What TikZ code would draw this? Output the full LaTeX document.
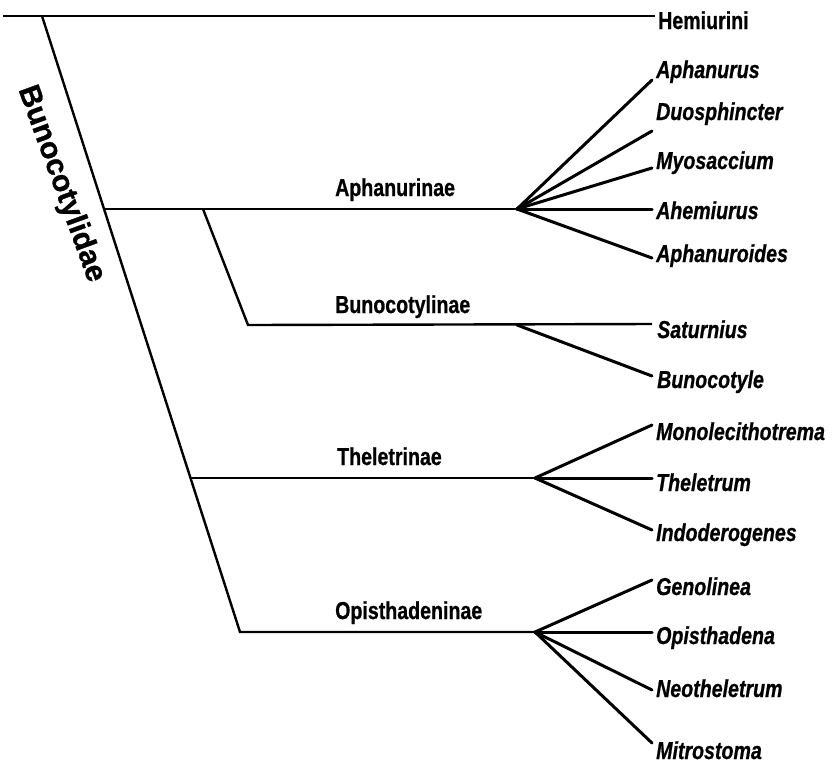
\documentclass[tikz,border=0pt]{standalone}
\usepackage{fontspec}
\setmainfont{Liberation Sans}[FakeStretch=0.8]
\newfontfamily\lblfont{Liberation Sans}[FakeStretch=0.8, FakeBold=0.7]
\newfontfamily\widefam{Liberation Sans}[FakeBold=1]
\begin{document}
\begin{tikzpicture}[x=1pt,y=-1pt,
  br/.style={line width=2.4pt},
  fan/.style={line width=3pt, line cap=round},
  sublbl/.style={anchor=base west, inner sep=0pt, font=\lblfont\fontsize{24.5}{26}\selectfont\bfseries},
  genlbl/.style={anchor=base west, inner sep=0pt, font=\lblfont\fontsize{24.5}{26}\selectfont\bfseries\itshape},
  famlbl/.style={inner sep=0pt, rotate=-70, font=\widefam\fontsize{30}{32}\selectfont\bfseries}]
\useasboundingbox (0,0) rectangle (837,764);
% structural points
\coordinate (tl) at (3,16);
\coordinate (top) at (42,16);
\coordinate (hemi) at (655,16);
\coordinate (aph0) at (104,209);
\coordinate (aph1) at (203,209);
\coordinate (aphF) at (517,209);
\coordinate (bun0) at (248,325);
\coordinate (bunF) at (517,325);
\coordinate (the0) at (190,478);
\coordinate (theF) at (535,478);
\coordinate (opi0) at (240,632);
\coordinate (opiF) at (535,632);
% tip ends
\coordinate (eAphanurus) at (652,80);
\coordinate (eDuo) at (652,131);
\coordinate (eMyo) at (652,168);
\coordinate (eAhe) at (652,209);
\coordinate (eAphs) at (652,258);
\coordinate (eSat) at (652,324);
\coordinate (eBun) at (652,376);
\coordinate (eMon) at (652,425);
\coordinate (eThe) at (652,478);
\coordinate (eInd) at (652,530);
\coordinate (eGen) at (652,580);
\coordinate (eOpi) at (652,632);
\coordinate (eNeo) at (652,690);
\coordinate (eMit) at (652,743);
% labels
\node[sublbl] (Hemiurini) at (658,29) {Hemiurini};
\node[sublbl] (Aphanurinae) at (335,196) {Aphanurinae};
\node[sublbl] (Bunocotylinae) at (335,313) {Bunocotylinae};
\node[sublbl] (Theletrinae) at (337,465) {Theletrinae};
\node[sublbl] (Opisthadeninae) at (335,619) {Opisthadeninae};
\node[famlbl] (fam) at (61,184) {Bunocotylidae};
\node[genlbl] (Aphanurus) at (656,78) {Aphanurus};
\node[genlbl] (Duosphincter) at (656,120) {Duosphincter};
\node[genlbl] (Myosaccium) at (656,169) {Myosaccium};
\node[genlbl] (Ahemiurus) at (656,219) {Ahemiurus};
\node[genlbl] (Aphanuroides) at (656,262) {Aphanuroides};
\node[genlbl] (Saturnius) at (657,338) {Saturnius};
\node[genlbl] (Bunocotyle) at (657,388) {Bunocotyle};
\node[genlbl] (Monolecithotrema) at (656,440) {Monolecithotrema};
\node[genlbl] (Theletrum) at (656,491) {Theletrum};
\node[genlbl] (Indoderogenes) at (656,541) {Indoderogenes};
\node[genlbl] (Genolinea) at (656,595) {Genolinea};
\node[genlbl] (Opisthadena) at (656,644) {Opisthadena};
\node[genlbl] (Neotheletrum) at (656,697) {Neotheletrum};
\node[genlbl] (Mitrostoma) at (656,759) {Mitrostoma};
% tree lines
\draw[br] (tl) -- (hemi);
\draw[br] (top) -- (opi0) -- (opiF);
\draw[br] (aph0) -- (aphF);
\draw[br] (aph1) -- (bun0) -- (eSat);
\draw[br] (the0) -- (theF);
% fans
\draw[fan] (aphF) -- (eAphanurus);
\draw[fan] (aphF) -- (eDuo);
\draw[fan] (aphF) -- (eMyo);
\draw[fan] (aphF) -- (eAhe);
\draw[fan] (aphF) -- (eAphs);
\draw[fan] (bunF) -- (eBun);
\draw[fan] (theF) -- (eMon);
\draw[fan] (theF) -- (eThe);
\draw[fan] (theF) -- (eInd);
\draw[fan] (opiF) -- (eGen);
\draw[fan] (opiF) -- (eOpi);
\draw[fan] (opiF) -- (eNeo);
\draw[fan] (opiF) -- (eMit);
\end{tikzpicture}
\end{document}
